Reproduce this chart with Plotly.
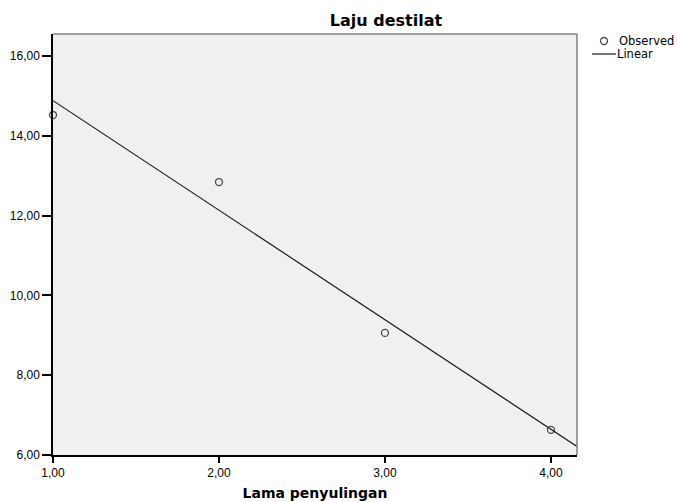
import numpy as np
import plotly.graph_objects as go

# Data
lama_penyulingan = [1, 2, 3, 4]
laju_destilat = [14.52, 12.84, 9.06, 6.63]

x_ticks = [1, 2, 3, 4]
y_ticks = [6, 8, 10, 12, 14, 16]

x_range = [1, 4.157]
y_range = [6, 16.55]

legend_labels = ["Observed", "Linear"]

# Linear fit
slope, intercept = np.polyfit(lama_penyulingan, laju_destilat, 1)
fit_x = np.array(x_range)
fit_y = intercept + slope * fit_x

W, H = 677, 502
L, R, T, B = 53, 577, 34, 455  # plot area in pixels


def px(xp):
    return (xp - L) / (R - L)


def py(yp):
    return (B - yp) / (B - T)


TICK_FONT = "Liberation Sans, Arial, sans-serif"
TITLE_FONT = "DejaVu Sans, sans-serif"

fig = go.Figure()
fig.add_trace(go.Scatter(
    x=lama_penyulingan, y=laju_destilat, mode="markers", name=legend_labels[0],
    marker=dict(symbol="circle-open", size=7, color="#4a4a4a", line=dict(width=1.3)),
    cliponaxis=False, showlegend=False,
))
fig.add_trace(go.Scatter(
    x=fit_x, y=fit_y, mode="lines", name=legend_labels[1],
    line=dict(color="#1a1a1a", width=1.2), showlegend=False,
))

shapes = [
    dict(type="line", xref="paper", yref="paper", x0=0, x1=1, y0=1, y1=1,
         line=dict(color="#808080", width=1.5)),
    dict(type="line", xref="paper", yref="paper", x0=1, x1=1, y0=0, y1=1,
         line=dict(color="#808080", width=1.5)),
    # legend symbols
    dict(type="circle", xref="paper", yref="paper", xsizemode="pixel", ysizemode="pixel",
         xanchor=px(604), yanchor=py(41), x0=-3.5, x1=3.5, y0=-3.5, y1=3.5,
         line=dict(color="#4a4a4a", width=1.3)),
    dict(type="line", xref="paper", yref="paper", x0=px(592), x1=px(616), y0=py(54), y1=py(54),
         line=dict(color="#1a1a1a", width=1.2)),
]

annotations = [
    dict(text=legend_labels[0], xref="paper", yref="paper", x=px(618), y=py(41),
         xanchor="left", yanchor="middle", showarrow=False, borderpad=0,
         font=dict(family=TITLE_FONT, size=11.5, color="black")),
    dict(text=legend_labels[1], xref="paper", yref="paper", x=px(616), y=py(54),
         xanchor="left", yanchor="middle", showarrow=False, borderpad=0,
         font=dict(family=TITLE_FONT, size=11.5, color="black")),
]

fig.update_layout(
    width=W, height=H,
    margin=dict(l=L, r=W - R, t=T, b=H - B),
    paper_bgcolor="white",
    plot_bgcolor="#F0F0F0",
    separators=",.",
    font=dict(family=TICK_FONT, size=12, color="black"),
    title=dict(text="<b>Laju destilat</b>", x=386 / W, xanchor="center",
               y=1 - 20 / H, yanchor="middle", font=dict(size=16, family=TITLE_FONT)),
    showlegend=False,
    xaxis=dict(range=x_range, tickvals=x_ticks, tickformat=".2f", automargin=False,
               showgrid=False, zeroline=False, showline=True, linecolor="black",
               linewidth=1.5, ticks="outside", ticklen=6, tickcolor="black", tickwidth=1.5,
               tickfont=dict(size=12),
               title=dict(text="<b>Lama penyulingan</b>", font=dict(size=14, family=TITLE_FONT),
                          standoff=9)),
    yaxis=dict(range=y_range, tickvals=y_ticks, tickformat=".2f", automargin=False,
               showgrid=False, zeroline=False, showline=True, linecolor="black",
               linewidth=1.5, ticks="outside", ticklen=9, tickcolor="black", tickwidth=1.5,
               tickfont=dict(size=12)),
    shapes=shapes,
    annotations=annotations,
)

fig.write_html(
    "out.html",
    config={"displayModeBar": False},
    post_script="document.body.style.margin='0';document.body.style.overflow='hidden';",
)
